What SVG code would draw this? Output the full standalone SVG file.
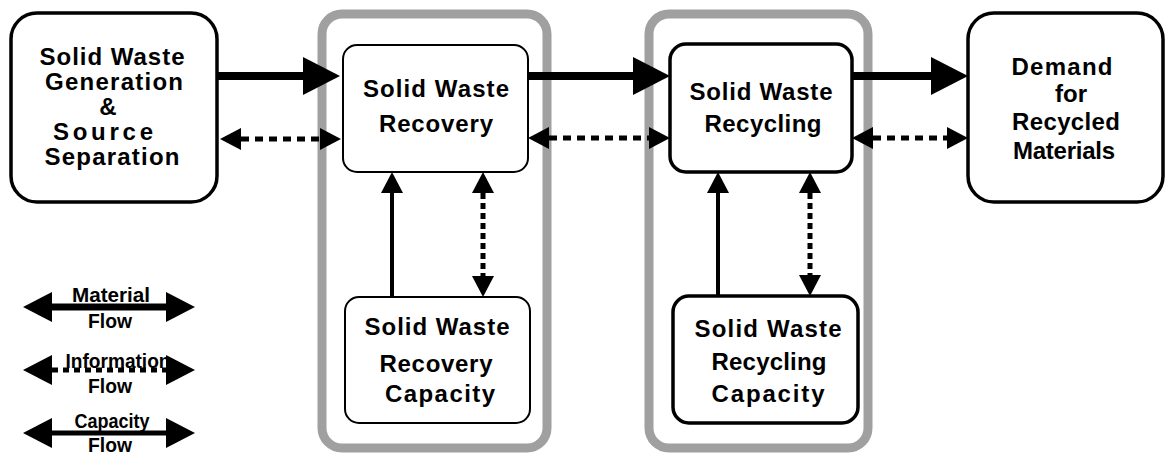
<svg xmlns="http://www.w3.org/2000/svg" width="1175" height="454" viewBox="0 0 1175 454">
<style>
  .cont{fill:none;stroke:#a0a0a0;stroke-width:9}
  .node{fill:#fff;stroke:#000}
  .thin{stroke-width:2}
  .thick{stroke-width:3.5}
  text{font-family:"Liberation Sans",Arial,sans-serif;font-weight:bold;fill:#000;text-anchor:middle}
  .t{font-size:24px}
  .lg{font-size:20px}
  .mat{stroke:#000;stroke-width:8;fill:none}
  .info{stroke:#000;stroke-width:5;fill:none;stroke-dasharray:8 6}
  .vinfo{stroke:#000;stroke-width:5;fill:none;stroke-dasharray:6 4}
  .cap{stroke:#000;stroke-width:4;fill:none}
</style>
<defs>
  <marker id="mh" markerUnits="userSpaceOnUse" markerWidth="38" markerHeight="40" refX="0" refY="19" orient="auto" overflow="visible">
    <path d="M0,0 L37,19 L0,38 z" fill="#000"/>
  </marker>
  <marker id="ih" markerUnits="userSpaceOnUse" markerWidth="22" markerHeight="24" refX="0" refY="11" orient="auto-start-reverse" overflow="visible">
    <path d="M0,0 L21,11 L0,22 z" fill="#000"/>
  </marker>
  <marker id="lh" markerUnits="userSpaceOnUse" markerWidth="30" markerHeight="32" refX="0" refY="15" orient="auto-start-reverse" overflow="visible">
    <path d="M0,0 L29,15 L0,30 z" fill="#000"/>
  </marker>
</defs>

<g id="containers">
  <rect class="cont" x="322" y="14" width="225" height="434" rx="20"/>
  <rect class="cont" x="649" y="14" width="219" height="434" rx="20"/>
</g>

<g id="node-generation">
  <rect class="node thick" x="11" y="13" width="206" height="189" rx="26"/>
  <text class="t" x="112" y="65" textLength="145">Solid Waste</text>
  <text class="t" x="114" y="90" textLength="138">Generation</text>
  <text class="t" x="108" y="115">&amp;</text>
  <text class="t" x="103" y="140" textLength="100">Source</text>
  <text class="t" x="112" y="165" textLength="135">Separation</text>
</g>

<g id="node-recovery">
  <rect class="node thin" x="343" y="45" width="185" height="127" rx="14"/>
  <text class="t" x="436" y="97" textLength="146">Solid Waste</text>
  <text class="t" x="436" y="132" textLength="114">Recovery</text>
</g>

<g id="node-recycling">
  <rect class="node thick" x="670" y="44" width="182" height="128" rx="16"/>
  <text class="t" x="761" y="100" textLength="143">Solid Waste</text>
  <text class="t" x="763" y="132" textLength="117">Recycling</text>
</g>

<g id="node-demand">
  <rect class="node thick" x="968" y="13" width="195" height="189" rx="26"/>
  <text class="t" x="1062" y="75" textLength="101">Demand</text>
  <text class="t" x="1071" y="102">for</text>
  <text class="t" x="1066" y="130" textLength="108">Recycled</text>
  <text class="t" x="1064" y="159" textLength="102">Materials</text>
</g>

<g id="node-recovery-capacity">
  <rect class="node thin" x="345" y="297" width="185" height="126" rx="14"/>
  <text class="t" x="437" y="335" textLength="145">Solid Waste</text>
  <text class="t" x="436" y="372" textLength="113">Recovery</text>
  <text class="t" x="440" y="402" textLength="110">Capacity</text>
</g>

<g id="node-recycling-capacity">
  <rect class="node thick" x="673" y="296" width="185" height="127" rx="16"/>
  <text class="t" x="768" y="337" textLength="147">Solid Waste</text>
  <text class="t" x="769" y="370" textLength="115">Recycling</text>
  <text class="t" x="768" y="402" textLength="113">Capacity</text>
</g>

<g id="connectors">
  <line class="mat" x1="217" y1="76" x2="303" y2="76" marker-end="url(#mh)"/>
  <line class="mat" x1="528" y1="76" x2="633" y2="76" marker-end="url(#mh)"/>
  <line class="mat" x1="852" y1="76" x2="931" y2="76" marker-end="url(#mh)"/>

  <line class="info" x1="241" y1="139" x2="320" y2="139" marker-start="url(#ih)" marker-end="url(#ih)"/>
  <line class="info" x1="549" y1="138" x2="649" y2="138" marker-start="url(#ih)" marker-end="url(#ih)"/>
  <line class="info" x1="873" y1="138" x2="947" y2="138" marker-start="url(#ih)" marker-end="url(#ih)"/>

  <line class="cap" x1="392" y1="297" x2="392" y2="193" marker-end="url(#ih)"/>
  <line class="vinfo" x1="483" y1="193" x2="483" y2="276" marker-start="url(#ih)" marker-end="url(#ih)"/>
  <line class="cap" x1="718" y1="296" x2="718" y2="193" marker-end="url(#ih)"/>
  <line class="vinfo" x1="810" y1="193" x2="810" y2="275" marker-start="url(#ih)" marker-end="url(#ih)"/>
</g>

<g id="legend">
  <line class="mat" style="stroke-width:7" x1="52" y1="307" x2="166" y2="307" marker-start="url(#lh)" marker-end="url(#lh)"/>
  <text class="lg" x="111" y="302" textLength="78" lengthAdjust="spacingAndGlyphs">Material</text>
  <text class="lg" x="110" y="328" textLength="44" lengthAdjust="spacingAndGlyphs">Flow</text>

  <line class="info" style="stroke-dasharray:6 5" x1="52" y1="370" x2="166" y2="370" marker-start="url(#lh)" marker-end="url(#lh)"/>
  <text class="lg" x="118" y="368" textLength="105" lengthAdjust="spacingAndGlyphs">Information</text>
  <text class="lg" x="110" y="393" textLength="44" lengthAdjust="spacingAndGlyphs">Flow</text>

  <line class="cap" style="stroke-width:5" x1="52" y1="433" x2="166" y2="433" marker-start="url(#lh)" marker-end="url(#lh)"/>
  <text class="lg" x="112" y="428" textLength="75" lengthAdjust="spacingAndGlyphs">Capacity</text>
  <text class="lg" x="110" y="452" textLength="44" lengthAdjust="spacingAndGlyphs">Flow</text>
</g>
</svg>
